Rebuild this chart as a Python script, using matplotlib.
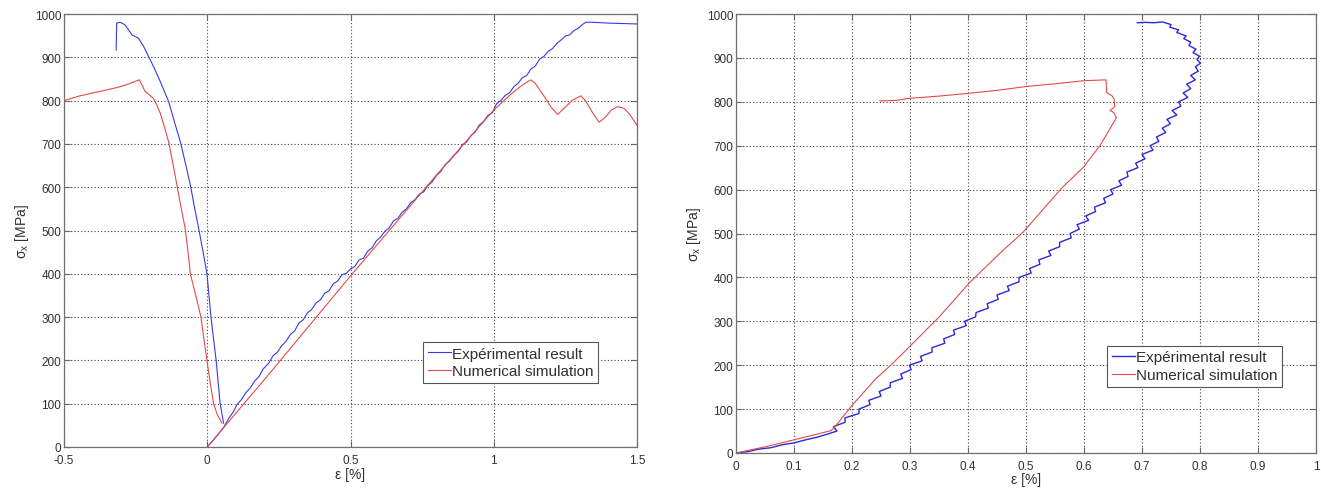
import numpy as np
import matplotlib
matplotlib.use("Agg")
import matplotlib.pyplot as plt

plt.rcParams['font.family'] = ['Liberation Sans', 'DejaVu Sans']
plt.rcParams['mathtext.fontset'] = 'custom'
plt.rcParams['mathtext.rm'] = 'Liberation Sans'
plt.rcParams['mathtext.it'] = 'Liberation Sans'
plt.rcParams['mathtext.default'] = 'regular'

nan = np.nan

# --- panneau gauche : deux branches séparées par nan ---
exp1_eps = [-0.318, -0.316, -0.304, -0.287, -0.263, -0.240, -0.222, -0.205, -0.185, -0.164,
            -0.135, -0.115, -0.094, -0.076, -0.059, -0.045, -0.030, -0.015, -0.001, 0.013,
            0.022, 0.031, 0.045, 0.057, nan,
            0.000, 0.020, 0.040, 0.057, 0.075, 0.090, 0.104, 0.120, 0.135, 0.150,
            0.165, 0.180, 0.195, 0.215, 0.230, 0.245, 0.260, 0.275, 0.290, 0.305,
            0.320, 0.335, 0.350, 0.365, 0.380, 0.395, 0.410, 0.425, 0.440, 0.455,
            0.470, 0.485, 0.500, 0.515, 0.530, 0.545, 0.560, 0.575, 0.590, 0.605,
            0.620, 0.635, 0.650, 0.665, 0.680, 0.695, 0.710, 0.725, 0.740, 0.755,
            0.770, 0.785, 0.800, 0.815, 0.830, 0.845, 0.860, 0.875, 0.890, 0.905,
            0.920, 0.935, 0.950, 0.965, 0.980, 0.995, 1.010, 1.025, 1.040, 1.055,
            1.070, 1.085, 1.100, 1.115, 1.130, 1.145, 1.160, 1.175, 1.190, 1.205,
            1.220, 1.235, 1.250, 1.265, 1.280, 1.295, 1.310, 1.322, 1.340, 1.400,
            1.450, 1.500]
exp1_sig = [917, 979, 981, 975, 952, 944, 925, 902, 875, 844,
            798, 752, 705, 655, 605, 555, 505, 452, 400, 300,
            250, 200, 100, 55, nan,
            0, 15, 31, 45, 66, 80, 98, 110, 126, 136,
            152, 162, 180, 194, 211, 219, 234, 244, 260, 268,
            286, 294, 310, 318, 333, 340, 355, 361, 377, 383,
            398, 401, 411, 417, 432, 436, 452, 460, 476, 485,
            498, 506, 522, 528, 542, 550, 564, 571, 584, 589,
            604, 612, 627, 636, 652, 660, 673, 682, 698, 704,
            719, 727, 744, 752, 766, 772, 793, 800, 812, 818,
            832, 840, 853, 858, 873, 880, 896, 902, 914, 920,
            932, 940, 949, 952, 962, 967, 976, 981, 981, 979,
            978, 977]

num1_eps = [-0.500, -0.450, -0.397, -0.356, -0.316, -0.280, -0.237, -0.227, -0.217, -0.200,
            -0.188, -0.176, -0.164, -0.150, -0.135, -0.120, -0.106, -0.092, -0.077, -0.068,
            -0.059, -0.040, -0.022, -0.012, -0.001, 0.010, 0.022, 0.035, 0.051, nan,
            0.000, 0.051, 0.200, 0.500, 0.800, 1.000, 1.060, 1.100, 1.129, 1.145,
            1.160, 1.180, 1.200, 1.223, 1.245, 1.275, 1.304, 1.320, 1.345, 1.368,
            1.390, 1.410, 1.432, 1.455, 1.475, 1.500]
num1_sig = [800, 810, 818, 824, 830, 837, 848, 835, 821, 812,
            805, 790, 771, 740, 705, 655, 605, 555, 505, 455,
            400, 350, 300, 250, 200, 150, 100, 75, 55, nan,
            0, 40, 156, 395, 628, 778, 815, 836, 848, 840,
            825, 806, 785, 768, 782, 801, 811, 800, 772, 750,
            762, 778, 786, 782, 768, 743]

# --- panneau droit ---
exp2_eps = [0.000, 0.020, 0.040, 0.060, 0.080, 0.100, 0.120, 0.140, 0.160,
            0.174, 0.168, 0.188, 0.188, 0.212, 0.212, 0.231, 0.229, 0.250, 0.247,
            0.266, 0.266, 0.287, 0.284, 0.302, 0.299, 0.321, 0.318, 0.338, 0.338,
            0.360, 0.358, 0.377, 0.375, 0.397, 0.394, 0.413, 0.414, 0.435, 0.433,
            0.452, 0.450, 0.471, 0.468, 0.488, 0.488, 0.509, 0.506, 0.524, 0.522,
            0.543, 0.539, 0.558, 0.558, 0.578, 0.576, 0.592, 0.588, 0.608, 0.603,
            0.620, 0.618, 0.637, 0.634, 0.650, 0.646, 0.665, 0.660, 0.676, 0.674,
            0.693, 0.689, 0.705, 0.700, 0.719, 0.714, 0.729, 0.725, 0.741, 0.735,
            0.749, 0.743, 0.760, 0.752, 0.767, 0.763, 0.779, 0.771, 0.784, 0.777,
            0.792, 0.784, 0.797, 0.792,
            0.801, 0.795, 0.799, 0.788, 0.793, 0.781, 0.784, 0.772, 0.776, 0.760,
            0.763, 0.748, 0.750, 0.735, 0.720, 0.705, 0.692]
exp2_sig = [0, 3, 9, 12, 19, 23, 30, 36, 44,
            50, 60, 70, 80, 90, 100, 110, 120, 130, 140,
            150, 160, 170, 180, 190, 200, 210, 220, 230, 240,
            250, 260, 270, 280, 290, 300, 310, 320, 330, 340,
            350, 360, 370, 380, 390, 400, 410, 420, 430, 440,
            450, 460, 470, 480, 490, 500, 510, 520, 530, 540,
            550, 560, 570, 580, 590, 600, 610, 620, 630, 640,
            650, 660, 670, 680, 690, 700, 710, 720, 730, 740,
            750, 760, 770, 780, 790, 800, 810, 820, 830, 840,
            850, 860, 870, 880,
            888, 896, 904, 912, 920, 928, 936, 944, 950, 958,
            964, 970, 976, 982, 980, 981, 980]

num2_eps = [0.000, 0.050, 0.100, 0.164, 0.172, 0.201, 0.241, 0.270, 0.299, 0.351,
            0.402, 0.455, 0.495, 0.562, 0.599, 0.628, 0.656, 0.651, 0.645, 0.653,
            0.652, 0.648, 0.639, 0.638, 0.599, 0.550, 0.501, 0.450, 0.398, 0.350,
            0.300, 0.275, 0.248]
num2_sig = [0, 14, 30, 51, 62, 110, 169, 204, 242, 311,
            387, 455, 503, 604, 651, 701, 764, 776, 780, 789,
            806, 814, 821, 850, 848, 841, 835, 826, 819, 813,
            808, 803, 802]

labels = ['Expérimental result', 'Numerical simulation']
blue = '#3a3ae0'
red = '#e34a4a'


def style_axes(ax, xlim, xticks, xticklabels, xlabelpad):
    ax.set_xlim(xlim)
    ax.set_ylim(0, 1000)
    ax.set_xticks(xticks)
    ax.set_xticklabels(xticklabels)
    ax.set_yticks(np.arange(0, 1001, 100))
    ax.grid(True, color='#404040', linestyle=(0, (1, 2)), linewidth=0.8)
    ax.tick_params(direction='in', length=4, width=0.8, labelsize=8.5,
                   labelcolor='#303030', color='#666666',
                   top=True, right=True, pad=2)
    ax.tick_params(axis='x', pad=5)
    for s in ax.spines.values():
        s.set_color('#707070')
        s.set_linewidth(0.9)
    ax.set_xlabel('ε [%]', fontsize=10, color='#303030', labelpad=xlabelpad)
    ax.set_ylabel(r'$\sigma_x$ [MPa]', fontsize=10, color='#303030', labelpad=3)


fig = plt.figure(figsize=(13.21, 4.89), dpi=100)
ax1 = fig.add_axes([64 / 1321, 41 / 489, 573 / 1321, 433 / 489])
ax2 = fig.add_axes([736 / 1321, 35 / 489, 580 / 1321, 439 / 489])

ax1.plot(exp1_eps, exp1_sig, color=blue, lw=0.8, label=labels[0])
ax1.plot(num1_eps, num1_sig, color=red, lw=0.8, label=labels[1])
style_axes(ax1, (-0.5, 1.5), [-0.5, 0, 0.5, 1, 1.5], ['-0.5', '0', '0.5', '1', '1.5'], 1)

ax2.plot(exp2_eps, exp2_sig, color='#2a2ad8', lw=1.0, label=labels[0])
ax2.plot(num2_eps, num2_sig, color=red, lw=0.8, label=labels[1])
style_axes(ax2, (0, 1), np.arange(0, 1.01, 0.1),
           ['0', '0.1', '0.2', '0.3', '0.4', '0.5', '0.6', '0.7', '0.8', '0.9', '1'], 0)

for ax, anchor in [(ax1, (0.627, 0.2425)), (ax2, (0.64, 0.244))]:
    leg = ax.legend(loc='upper left', bbox_to_anchor=anchor, borderaxespad=0,
                    fontsize=11, handlelength=1.5, handletextpad=0.1,
                    borderpad=0.3, labelspacing=0.25, fancybox=False,
                    framealpha=1)
    leg.get_frame().set_edgecolor('#555555')
    leg.get_frame().set_linewidth(0.8)
    for t in leg.get_texts():
        t.set_color('#303030')

fig.savefig('out.png', dpi=100)
